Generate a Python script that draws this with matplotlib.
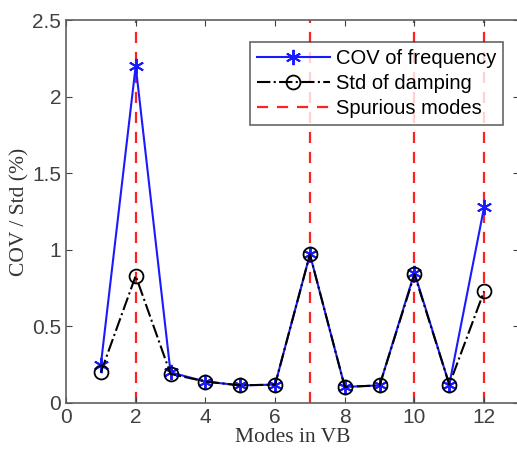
import matplotlib
matplotlib.use("Agg")
import matplotlib.pyplot as plt

modes = [1, 2, 3, 4, 5, 6, 7, 8, 9, 10, 11, 12]
cov_freq = [0.25, 2.20, 0.20, 0.14, 0.115, 0.12, 0.97, 0.105, 0.115, 0.85, 0.12, 1.28]
std_damp = [0.20, 0.83, 0.19, 0.14, 0.115, 0.12, 0.97, 0.105, 0.115, 0.84, 0.12, 0.73]
spurious = [2, 7, 10, 12]
xticks = [0, 2, 4, 6, 8, 10, 12]
yticks = [0, 0.5, 1, 1.5, 2, 2.5]

fig = plt.figure(figsize=(5.17, 4.62), dpi=100)
ax = fig.add_axes([66/517, 1-403/462, (519-66)/517, (403-20)/462])

for i, s in enumerate(spurious):
    ax.axvline(s, color='#ff2020', ls=(0, (5, 4)), lw=1.6,
               label='Spurious modes' if i == 0 else None, zorder=1)
ax.plot(modes, cov_freq, color='#1a1aff', lw=1.5, marker=(6, 2, 0), ms=11,
        markeredgewidth=1.4, label='COV of frequency', zorder=3)
ax.plot(modes, std_damp, color='black', lw=1.5, ls='-.', marker='o', ms=10,
        mfc='none', mew=1.3, label='Std of damping', zorder=4)

ax.set_xlim(0, 13)
ax.set_ylim(0, 2.5)
ax.set_xticks(xticks)
ax.set_yticks(yticks)
ax.set_yticklabels(['0', '0.5', '1', '1.5', '2', '2.5'])
ax.tick_params(direction='in', top=True, right=True, labelsize=15,
               colors='#404040', length=4)
for lab in ax.get_xticklabels() + ax.get_yticklabels():
    lab.set_family('Liberation Sans')
for sp in ax.spines.values():
    sp.set_color('#606060')
    sp.set_linewidth(1.2)

ax.set_xlabel('Modes in VB', family='Liberation Serif', fontsize=15.5, color='#333333', labelpad=1)
ax.set_ylabel('COV / Std (%)', family='Liberation Serif', fontsize=15.5, color='#333333', labelpad=2)

handles, labels = ax.get_legend_handles_labels()
order = [labels.index('COV of frequency'), labels.index('Std of damping'), labels.index('Spurious modes')]
leg = ax.legend([handles[i] for i in order], [labels[i] for i in order],
                loc='upper left', bbox_to_anchor=((250-66)/453, 1-(42-20)/383),
                prop={'family': 'Liberation Sans', 'size': 14.5}, frameon=True, fancybox=False,
                edgecolor='#404040', borderpad=0.35, handlelength=3.6, labelspacing=0.3,
                handletextpad=0.3, borderaxespad=0)
leg.get_frame().set_linewidth(1.2)

fig.savefig('out.png', dpi=100)
